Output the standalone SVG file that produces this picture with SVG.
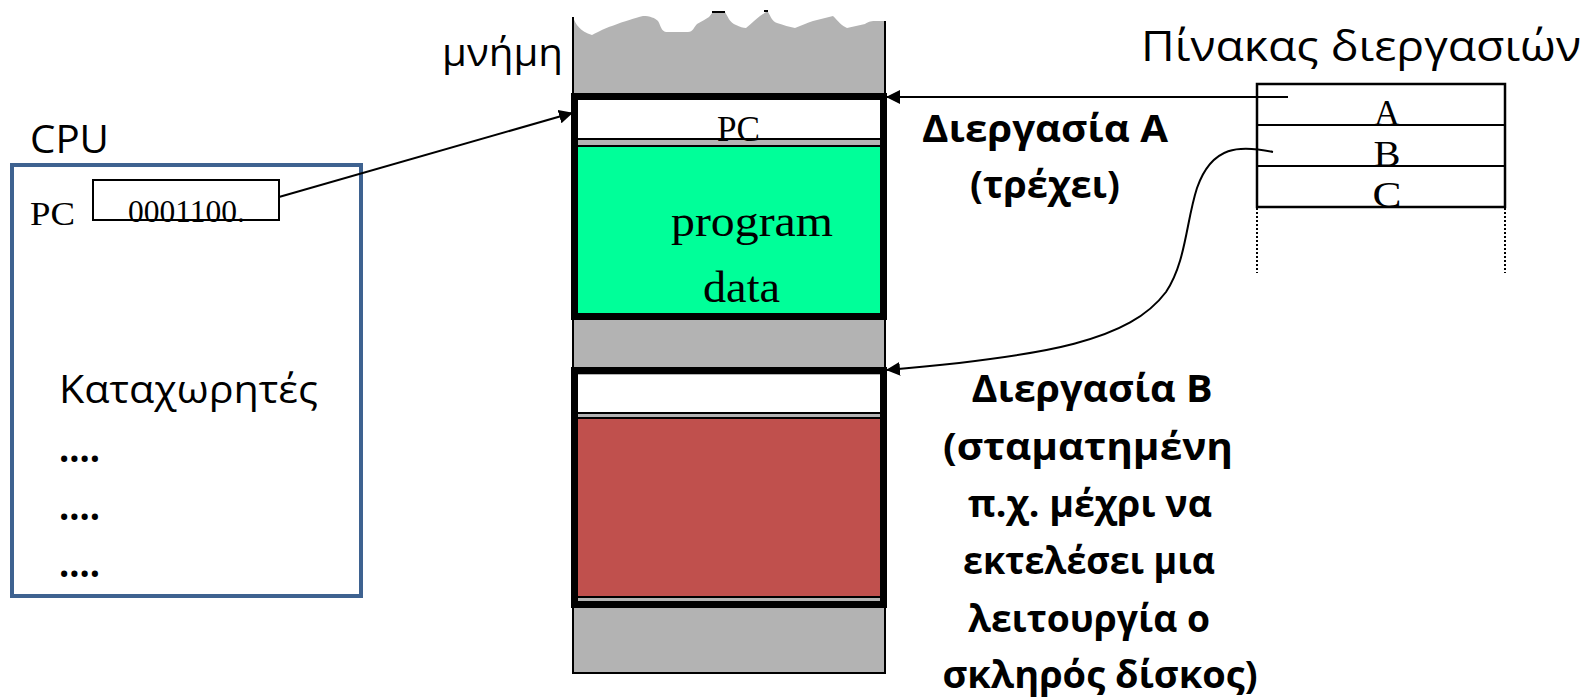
<svg xmlns="http://www.w3.org/2000/svg" width="1587" height="700" viewBox="0 0 1587 700">
<style>
.sans{font-family:"Open Sans","Noto Sans","Liberation Sans",sans-serif;fill:#000}
.bold{font-family:"Open Sans","Noto Sans","Liberation Sans",sans-serif;font-weight:700;fill:#000}
.serif{font-family:"Liberation Serif","Times New Roman",serif;fill:#000}
.frame{fill:none;stroke:#000;stroke-width:7}
.thin{stroke:#000;stroke-width:2;fill:none}
.conn{stroke:#000;stroke-width:2;fill:none}
</style>
<defs>
<marker id="arr" viewBox="0 0 14 14" refX="13" refY="7" markerWidth="14" markerHeight="14" markerUnits="userSpaceOnUse" orient="auto">
<path d="M0,0 L14,7 L0,14 Z" fill="#000"/>
</marker>
</defs>
<rect width="1587" height="700" fill="#fff"/>

<g id="memory">
<path d="M573,17 C576,25 580,31 592,35 C600,31 605,28 612,26 C625,21 635,18 643,16 C650,16 655,18 658,21 C661,26 661,31 666,32 L688,32 C693,32 694,27 697,24 C702,21 706,19 709,17 L713,12 L725,12 C728,17 730,23 736,25 C740,27 743,28 746,28 C752,23 756,19 760,16 L766,12 L768,12 C771,17 772,21 777,23 C784,25 789,27 795,28 C802,25 807,23 813,21 L833,16 C838,21 842,26 847,28 L865,24 C868,22 870,21 875,21 L885,21 L885,673 L573,673 Z" fill="#b3b3b3"/>
<path class="thin" d="M573,17 L573,673 L885,673 L885,21"/>
<line class="thin" x1="712" y1="12" x2="725" y2="12"/>
<line class="thin" x1="764" y1="11" x2="768" y2="11"/>
<text class="sans" x="442" y="66" font-size="38" textLength="121" lengthAdjust="spacingAndGlyphs">μνήμη</text>
</g>

<g id="procA">
<rect x="578" y="100" width="302" height="39" fill="#fff"/>
<line class="thin" x1="578" y1="139" x2="880" y2="139"/>
<rect x="578" y="146" width="302" height="167" fill="#00ff99"/>
<line class="thin" x1="578" y1="146" x2="880" y2="146"/>
<rect class="frame" x="574.5" y="96.5" width="309" height="220"/>
<text class="serif" x="717" y="141" font-size="35" textLength="43" lengthAdjust="spacingAndGlyphs">PC</text>
<text class="serif" x="671" y="236" font-size="45" textLength="162" lengthAdjust="spacingAndGlyphs">program</text>
<text class="serif" x="703" y="302" font-size="45" textLength="77" lengthAdjust="spacingAndGlyphs">data</text>
<text class="bold" x="1045" y="142" font-size="38" text-anchor="middle" textLength="246" lengthAdjust="spacingAndGlyphs">Διεργασία Α</text>
<text class="bold" x="1045" y="198" font-size="38" text-anchor="middle" textLength="150" lengthAdjust="spacingAndGlyphs">(τρέχει)</text>
</g>

<g id="procB">
<rect x="578" y="375" width="302" height="38" fill="#fff"/>
<line class="thin" x1="578" y1="413" x2="880" y2="413"/>
<rect x="578" y="418" width="302" height="179" fill="#c0504d"/>
<line class="thin" x1="578" y1="418" x2="880" y2="418"/>
<line class="thin" x1="578" y1="597" x2="880" y2="597"/>
<rect x="578" y="598" width="302" height="3" fill="#b3b3b3"/>
<rect class="frame" x="574.5" y="370.5" width="309" height="234"/>
<g class="bold" font-size="38" text-anchor="middle">
<text x="1092" y="402" textLength="241" lengthAdjust="spacingAndGlyphs">Διεργασία Β</text>
<text x="1088" y="460" textLength="290" lengthAdjust="spacingAndGlyphs">(σταματημένη</text>
<text x="1090" y="517" textLength="244" lengthAdjust="spacingAndGlyphs">π.χ. μέχρι να</text>
<text x="1089" y="574" textLength="252" lengthAdjust="spacingAndGlyphs">εκτελέσει μια</text>
<text x="1089" y="632" textLength="242" lengthAdjust="spacingAndGlyphs">λειτουργία ο</text>
<text x="1100" y="688" textLength="315" lengthAdjust="spacingAndGlyphs">σκληρός δίσκος)</text>
</g>
</g>

<g id="cpu">
<text class="sans" x="30" y="153" font-size="39" textLength="79" lengthAdjust="spacingAndGlyphs">CPU</text>
<rect x="12" y="165" width="349" height="431" fill="none" stroke="#3e6290" stroke-width="4"/>
<text class="serif" x="30" y="225" font-size="34" textLength="45" lengthAdjust="spacingAndGlyphs">PC</text>
<rect x="93" y="180" width="186" height="40" fill="none" stroke="#000" stroke-width="2"/>
<text class="serif" x="128" y="222" font-size="31" textLength="117" lengthAdjust="spacingAndGlyphs">0001100.</text>
<text class="sans" x="59" y="403" font-size="39" textLength="259" lengthAdjust="spacingAndGlyphs">Καταχωρητές</text>
<text class="bold" x="59" y="462" font-size="39" textLength="41" lengthAdjust="spacingAndGlyphs">....</text>
<text class="bold" x="59" y="520" font-size="39" textLength="41" lengthAdjust="spacingAndGlyphs">....</text>
<text class="bold" x="59" y="577" font-size="39" textLength="41" lengthAdjust="spacingAndGlyphs">....</text>
</g>

<g id="table">
<text class="sans" x="1141" y="61" font-size="42" textLength="440" lengthAdjust="spacingAndGlyphs">Πίνακας διεργασιών</text>
<rect x="1257" y="84" width="248" height="123" fill="none" stroke="#000" stroke-width="2.5"/>
<line class="thin" x1="1257" y1="125" x2="1505" y2="125" stroke-width="2.5"/>
<line class="thin" x1="1257" y1="166" x2="1505" y2="166" stroke-width="2.5"/>
<line x1="1257" y1="208" x2="1257" y2="273" stroke="#000" stroke-width="2" stroke-dasharray="2,2"/>
<line x1="1505" y1="208" x2="1505" y2="273" stroke="#000" stroke-width="2" stroke-dasharray="2,2"/>
<text class="serif" x="1387" y="125" font-size="35" text-anchor="middle" textLength="26" lengthAdjust="spacingAndGlyphs">A</text>
<text class="serif" x="1387" y="166" font-size="35" text-anchor="middle" textLength="27" lengthAdjust="spacingAndGlyphs">B</text>
<text class="serif" x="1387" y="207" font-size="35" text-anchor="middle" textLength="29" lengthAdjust="spacingAndGlyphs">C</text>
</g>

<g id="connectors">
<line class="conn" x1="279" y1="197" x2="572" y2="113" marker-end="url(#arr)"/>
<line class="conn" x1="1288" y1="97" x2="887" y2="97" marker-end="url(#arr)"/>
<path class="conn" d="M1273,152 C1240,145 1212,145 1197,188 C1186,222 1186,262 1166,292 C1130,340 1050,356 887,370" marker-end="url(#arr)"/>
</g>
</svg>
